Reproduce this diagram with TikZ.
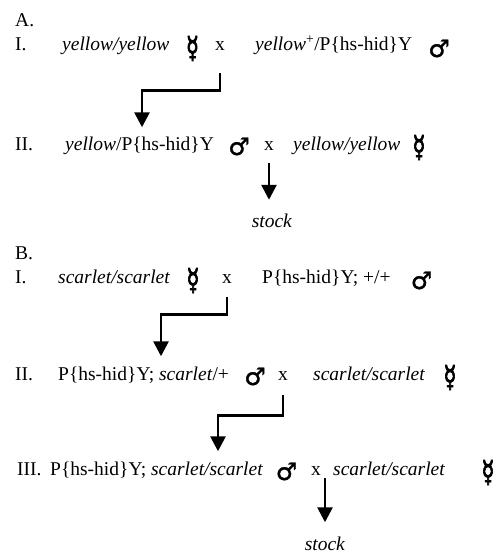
\documentclass[tikz,border=0pt]{standalone}
\usepackage{fontspec}
\setmainfont{Liberation Serif}
\newfontfamily\symf{DejaVu Sans Bold}[FakeBold=1.2]
\newfontfamily\fsymf{DejaVu Sans Bold}[FakeBold=3]
\usetikzlibrary{arrows.meta}
\newcommand\femsym{\scalebox{0.7}[1]{\fsymf ☿}}
\newcommand\malsym{{\symf ♂}}
\begin{document}
\begin{tikzpicture}[x=1pt,y=-1pt,
  txt/.style={anchor=base west,inner sep=0pt,font=\fontsize{19.5}{23}\selectfont},
  crs/.style={anchor=base,inner sep=0pt,font=\fontsize{19.5}{23}\selectfont},
  fsym/.style={anchor=center,inner sep=0pt,font=\fontsize{30}{34}\selectfont},
  msym/.style={anchor=center,inner sep=0pt,font=\fontsize{24}{28}\selectfont},
  arr/.style={line width=2.7pt,-{Triangle[length=15pt,width=15pt]}}]
\useasboundingbox (0,0) rectangle (495,553);
% A
\node[txt] (hA) at (15,27) {A.};
\node[txt] (rA1) at (15,51) {I.};
\node[txt] (ga1) at (62,51) {\textit{yellow/yellow}};
\node[fsym] (fa1) at (192.5,48.5) {\femsym};
\node[crs] (xa1) at (220,51) {x};
\node[txt] (ga1b) at (255,51) {\textit{yellow}\textsuperscript{+}/P\{hs-hid\}Y};
\node[msym] (ma1) at (439,48.5) {\malsym};
\node[txt] (rA2) at (15,151) {II.};
\node[txt] (ga2) at (65,151) {\textit{yellow}/P\{hs-hid\}Y};
\node[msym] (ma2) at (239,146.5) {\malsym};
\node[crs] (xa2) at (269,151) {x};
\node[txt] (ga2b) at (293,151) {\textit{yellow/yellow}};
\node[fsym] (fa2) at (419,147.5) {\femsym};
\node[crs] (stA) at (272,227) {\textit{stock}};
\draw[arr] (xa1.south) ++(0,22) -- ++(0,17) -| ([xshift=77pt,yshift=10pt]ga2.north west);
\draw[arr] (xa2.south) ++(0,12) -- ([yshift=13.5pt]xa2.south |- stA.north);
% B
\node[txt] (hB) at (15,259) {B.};
\node[txt] (rB1) at (15,283) {I.};
\node[txt] (gb1) at (58,283) {\textit{scarlet/scarlet}};
\node[fsym] (fb1) at (193,280.5) {\femsym};
\node[crs] (xb1) at (227,283) {x};
\node[txt] (gb1b) at (262,283) {P\{hs-hid\}Y; +/+};
\node[msym] (mb1) at (421.5,280.5) {\malsym};
\node[txt] (rB2) at (15,380) {II.};
\node[txt] (gb2) at (58,380) {P\{hs-hid\}Y; \textit{scarlet}/+};
\node[msym] (mb2) at (255,376.5) {\malsym};
\node[crs] (xb2) at (283,380) {x};
\node[txt] (gb2b) at (313,380) {\textit{scarlet/scarlet}};
\node[fsym] (fb2) at (450,377.5) {\femsym};
\node[txt] (rB3) at (17,475) {III.};
\node[txt] (gb3) at (50,475) {P\{hs-hid\}Y; \textit{scarlet/scarlet}};
\node[msym] (mb3) at (286.5,471.5) {\malsym};
\node[crs] (xb3) at (316,475) {x};
\node[txt] (gb3b) at (333,475) {\textit{scarlet/scarlet}};
\node[fsym] (fb3) at (488,472.5) {\femsym};
\node[crs] (stB) at (325,550) {\textit{stock}};
\draw[arr] (xb1.south) ++(0,14) -- ++(0,17) -| ([xshift=103pt,yshift=10pt]gb2.north west);
\draw[arr] (xb2.south) ++(0,15) -- ++(0,20) -| ([xshift=168pt,yshift=10pt]gb3.north west);
\draw[arr] (stB.north |- xb3.south) ++(0,3) -- ([yshift=14pt]stB.north);
\end{tikzpicture}
\end{document}
